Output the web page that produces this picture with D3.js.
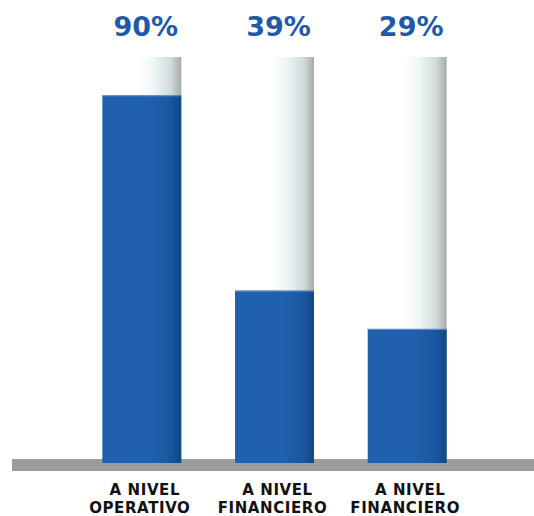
<!DOCTYPE html>
<html>
<head>
<meta charset="utf-8">
<script src="https://cdn.jsdelivr.net/npm/d3@7"></script>
<style>
  html, body { margin: 0; padding: 0; background: #ffffff; }
  svg { display: block; }
</style>
</head>
<body>
<svg id="chart" width="534" height="516"></svg>
<script>
// ---- data ----
const categories = ["A NIVEL|OPERATIVO", "A NIVEL|FINANCIERO", "A NIVEL|FINANCIERO"];
const values = [90, 39, 29];
const valueLabels = ["90%", "39%", "29%"];
const maxValue = 100;

// ---- layout ----
const W = 534, H = 516;
const svg = d3.select("#chart");
const defs = svg.append("defs");

const blueGrad = defs.append("linearGradient").attr("id", "blueGrad")
  .attr("x1", "0%").attr("x2", "100%").attr("y1", "0%").attr("y2", "0%");
[["0%", "#2160ae"], ["60%", "#2160ae"], ["85%", "#1b58a1"], ["100%", "#0f4885"]]
  .forEach(([o, c]) => blueGrad.append("stop").attr("offset", o).attr("stop-color", c));

const bgGrad = defs.append("linearGradient").attr("id", "bgGrad")
  .attr("x1", "0%").attr("x2", "100%").attr("y1", "0%").attr("y2", "0%");
[["0%", "#ffffff"], ["45%", "#ffffff"], ["65%", "#eef6f6"], ["87%", "#d0dada"], ["100%", "#a6a9a9"]]
  .forEach(([o, c]) => bgGrad.append("stop").attr("offset", o).attr("stop-color", c));

const x = d3.scaleBand()
  .domain(d3.range(categories.length))
  .range([36, 513])
  .paddingInner(0.405)
  .paddingOuter(0.5);

const y = d3.scaleLinear().domain([-5.5, maxValue]).range([461, 57]);

// background columns
svg.selectAll("rect.bg").data(values).enter().append("rect")
  .attr("class", "bg")
  .attr("x", (d, i) => x(i))
  .attr("width", x.bandwidth())
  .attr("y", y(maxValue))
  .attr("height", y(-5.5) - y(maxValue))
  .attr("fill", "url(#bgGrad)");

// baseline
svg.append("rect")
  .attr("x", 12).attr("width", W - 12)
  .attr("y", 459).attr("height", 12)
  .attr("fill", "#9b9d9d");

// bars
svg.selectAll("rect.bar").data(values).enter().append("rect")
  .attr("class", "bar")
  .attr("x", (d, i) => x(i))
  .attr("width", x.bandwidth())
  .attr("y", d => y(d))
  .attr("height", d => 463 - y(d))
  .attr("fill", "url(#blueGrad)");

// bar top highlight
svg.selectAll("line.hl").data(values).enter().append("line")
  .attr("class", "hl")
  .attr("x1", (d, i) => x(i)).attr("x2", (d, i) => x(i) + x.bandwidth())
  .attr("y1", d => y(d) + 0.5).attr("y2", d => y(d) + 0.5)
  .attr("stroke", "#6f93c4").attr("stroke-width", 1);

// value labels
svg.selectAll("text.val").data(valueLabels).enter().append("text")
  .attr("class", "val")
  .attr("x", (d, i) => x(i) + x.bandwidth() / 2 + 4)
  .attr("y", 36)
  .attr("text-anchor", "middle")
  .attr("font-family", "DejaVu Sans")
  .attr("font-weight", "bold")
  .attr("font-size", 27)
  .attr("fill", "#1f5aa8")
  .text(d => d);

// category labels
const cat = svg.selectAll("text.cat").data(categories).enter().append("text")
  .attr("class", "cat")
  .attr("text-anchor", "middle")
  .attr("font-family", "DejaVu Sans")
  .attr("font-weight", "bold")
  .attr("font-size", 15)
  .attr("letter-spacing", 0.6)
  .attr("fill", "#111111");
cat.each(function (d, i) {
  const parts = d.split("|");
  const t = d3.select(this);
  parts.forEach((p, j) => {
    t.append("tspan")
      .attr("x", x(i) + x.bandwidth() / 2 + (j === 0 ? 3 : -2))
      .attr("y", 495 + j * 17.5)
      .text(p);
  });
});
</script>
</body>
</html>
